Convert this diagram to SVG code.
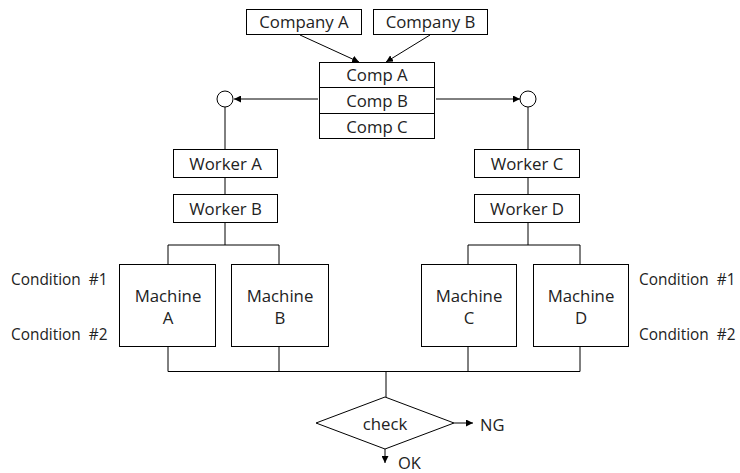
<svg xmlns="http://www.w3.org/2000/svg" width="740" height="473" viewBox="0 0 740 473">
  <defs>
    <marker id="arrow" viewBox="0 0 10 10" refX="10" refY="5" markerWidth="7" markerHeight="7" markerUnits="userSpaceOnUse" orient="auto">
      <path d="M0,0 L10,5 L0,10 z" fill="#000"/>
    </marker>
  </defs>
  <style>
    .box { fill: #fff; stroke: #000; stroke-width: 1; }
    .wire { fill: none; stroke: #000; stroke-width: 1; }
    .lbl { font-family: "Open Sans", "Noto Sans", sans-serif; font-size: 16.8px; fill: #222; text-anchor: middle; dominant-baseline: central; }
    .side { font-family: "Open Sans", "Noto Sans", sans-serif; font-size: 15.4px; fill: #222; dominant-baseline: central; }
    .res { font-family: "Open Sans", "Noto Sans", sans-serif; font-size: 16.5px; fill: #222; dominant-baseline: central; }
  </style>
  <rect width="740" height="473" fill="#fff"/>

  <!-- connectors -->
  <g id="connectors">
    <line class="wire" x1="300" y1="35" x2="359" y2="62" marker-end="url(#arrow)"/>
    <line class="wire" x1="430" y1="35" x2="386" y2="62" marker-end="url(#arrow)"/>
    <line class="wire" x1="318" y1="99" x2="234" y2="99" marker-end="url(#arrow)"/>
    <line class="wire" x1="436" y1="99" x2="520" y2="99" marker-end="url(#arrow)"/>
    <path class="wire" d="M225,107 V149 M225,178 V194 M225,223 V245 M168,264 V245 H279 V264"/>
    <path class="wire" d="M528,107 V149 M528,178 V194 M528,223 V245 M468,264 V245 H580 V264"/>
    <path class="wire" d="M168,347 V371.5 H580 V347 M279,347 V371.5 M468,347 V371.5"/>
    <line class="wire" x1="386" y1="371" x2="386" y2="397" stroke-width="2"/>
    <line class="wire" x1="454" y1="423" x2="473" y2="423" marker-end="url(#arrow)"/>
    <line class="wire" x1="385" y1="449" x2="385" y2="463" marker-end="url(#arrow)"/>
  </g>

  <g id="company-a"><rect class="box" x="246.5" y="9.5" width="115" height="25"/><text class="lbl" x="304" y="21.5">Company A</text></g>
  <g id="company-b"><rect class="box" x="373.5" y="9.5" width="114" height="25"/><text class="lbl" x="430.5" y="21.5">Company B</text></g>

  <g id="components">
    <rect class="box" x="319.5" y="62.5" width="115" height="76"/>
    <line class="wire" x1="319.5" y1="87.5" x2="434.5" y2="87.5"/>
    <line class="wire" x1="319.5" y1="113.5" x2="434.5" y2="113.5"/>
    <text class="lbl" x="377" y="74.5">Comp A</text>
    <text class="lbl" x="377" y="100">Comp B</text>
    <text class="lbl" x="377" y="126">Comp C</text>
  </g>

  <g id="junction-left"><circle class="box" cx="225" cy="99" r="8"/></g>
  <g id="junction-right"><circle class="box" cx="528" cy="99" r="8"/></g>

  <g id="worker-a"><rect class="box" x="173.5" y="149.5" width="104" height="28"/><text class="lbl" x="225.5" y="163">Worker A</text></g>
  <g id="worker-b"><rect class="box" x="173.5" y="194.5" width="104" height="28"/><text class="lbl" x="225.5" y="208">Worker B</text></g>
  <g id="worker-c"><rect class="box" x="474.5" y="149.5" width="105" height="28"/><text class="lbl" x="527" y="163">Worker C</text></g>
  <g id="worker-d"><rect class="box" x="474.5" y="194.5" width="105" height="28"/><text class="lbl" x="527" y="208">Worker D</text></g>

  <g id="machine-a"><rect class="box" x="119.5" y="264.5" width="96" height="82"/><text class="lbl" x="168" y="295">Machine</text><text class="lbl" x="168" y="317">A</text></g>
  <g id="machine-b"><rect class="box" x="231.5" y="264.5" width="97" height="82"/><text class="lbl" x="280" y="295">Machine</text><text class="lbl" x="280" y="317">B</text></g>
  <g id="machine-c"><rect class="box" x="421.5" y="264.5" width="95" height="82"/><text class="lbl" x="469" y="295">Machine</text><text class="lbl" x="469" y="317">C</text></g>
  <g id="machine-d"><rect class="box" x="533.5" y="264.5" width="95" height="82"/><text class="lbl" x="581" y="295">Machine</text><text class="lbl" x="581" y="317">D</text></g>

  <g id="conditions-left">
    <text class="side" x="11" y="279" xml:space="preserve">Condition  #1</text>
    <text class="side" x="11" y="334" xml:space="preserve">Condition  #2</text>
  </g>
  <g id="conditions-right">
    <text class="side" x="639" y="279" xml:space="preserve">Condition  #1</text>
    <text class="side" x="639" y="334" xml:space="preserve">Condition  #2</text>
  </g>

  <g id="check">
    <polygon class="box" points="385,397 454,423 385,449 316,423"/>
    <text class="lbl" x="385" y="423">check</text>
  </g>
  <g id="result-ng"><text class="res" x="480" y="424">NG</text></g>
  <g id="result-ok"><text class="res" x="398" y="462">OK</text></g>
</svg>
